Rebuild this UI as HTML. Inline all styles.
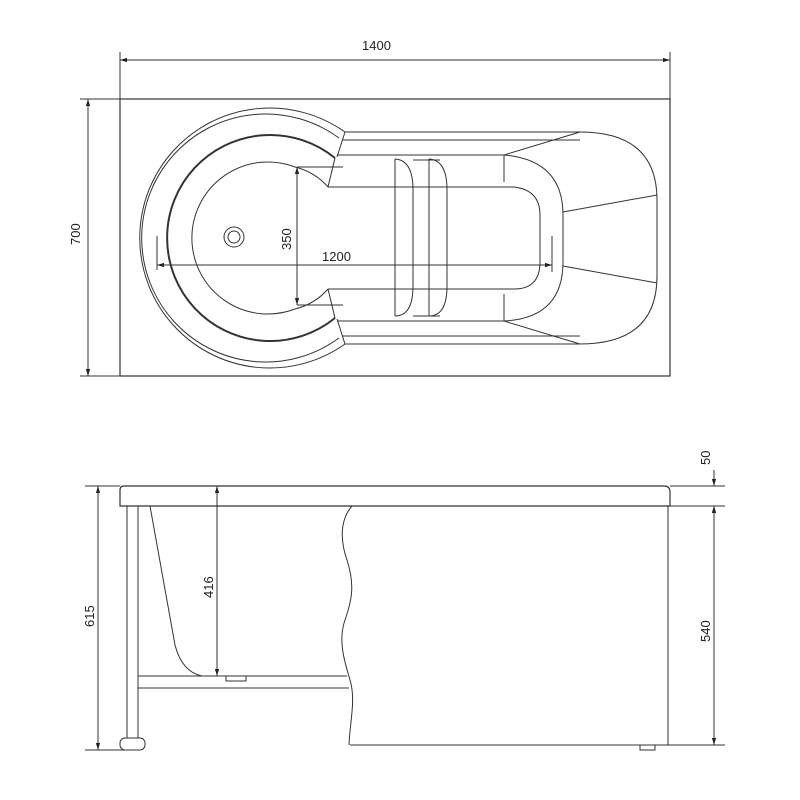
<!DOCTYPE html>
<html><head><style>body{margin:0;background:#fff}svg{display:block}text{font-family:"Liberation Sans",sans-serif;font-size:13px;fill:#222}</style></head>
<body>
<svg width="800" height="800" viewBox="0 0 800 800" xmlns="http://www.w3.org/2000/svg">
<defs><marker id="a" viewBox="0 0 10 10" refX="10" refY="5" markerWidth="7" markerHeight="9" orient="auto-start-reverse"><path d="M0,2 L10,5 L0,8 z" fill="#222"/></marker></defs>
<g fill="none" stroke="#333" stroke-width="1">
<line x1="120" y1="60" x2="670" y2="60" marker-start="url(#a)" marker-end="url(#a)"/>
<line x1="120" y1="52" x2="120" y2="99"/><line x1="670" y1="52" x2="670" y2="99"/>
<line x1="88" y1="99" x2="88" y2="376" marker-start="url(#a)" marker-end="url(#a)"/>
<line x1="80" y1="99" x2="120" y2="99"/><line x1="80" y1="376" x2="120" y2="376"/>
<rect x="120" y="99" width="550" height="277" stroke-width="1.2"/>
<path d="M345,132 A130,130 0 1 0 345,344"/>
<path d="M339,138 A124,124 0 1 0 339,338"/>
<path d="M335,158 A103,103 0 1 0 335,318" stroke-width="2"/>
<path d="M345,132 L337,157 M345,344 L337,319"/>
<path d="M335,158 L328,187 M335,318 L328,289"/>
<path d="M295,167 A76,76 0 1 0 295,309"/>
<path d="M295,167 Q315,172 328,187 M295,309 Q315,304 328,289"/>
<path d="M345,132 H580 Q657,132 657,200 V276 Q657,344 580,344 H345"/>
<path d="M342,140 H580 M342,336 H580"/>
<path d="M337,155 H506 M337,321 H506"/>
<path d="M328,187 H514 Q540,190 540,215 V262 Q540,289 514,289 H328"/>
<path d="M395,159 V316 M395,159 Q413,160 413,190 V286 Q413,316 395,316"/>
<path d="M429,159 V316 M429,159 Q447,160 447,190 V286 Q447,316 429,316 M413,160 H440 M413,316 H440"/>
<path d="M504,155 V182 M504,294 V321"/>
<path d="M504,155 Q563,160 563,215 V262 Q563,318 504,321"/>
<path d="M504,155 L580,132 M504,321 L580,344"/>
<path d="M563,212 L657,195 M563,266 L657,283"/>
<circle cx="234" cy="237" r="10"/><circle cx="234" cy="237" r="6"/>
<line x1="297" y1="167" x2="297" y2="305" marker-start="url(#a)" marker-end="url(#a)"/>
<path d="M297,167 H343 M297,305 H343"/>
<line x1="157" y1="265" x2="552" y2="265" marker-start="url(#a)" marker-end="url(#a)"/>
<path d="M157,236 V270 M552,236 V272"/>
<path d="M124,486 H664 Q670,486 670,492 V506 H120 V490 Q120,486 124,486 Z" stroke-width="1.2"/>
<path d="M668,506 V745 H350"/>
<path d="M352,506 C340,520 340,540 347,560 C355,585 352,600 345,620 C338,640 344,660 350,680 C356,700 350,720 349,745"/>
<path d="M127,506 V738 M138,506 V738"/>
<rect x="120" y="738" width="25" height="12" rx="5"/>
<path d="M138,676 H347 M138,688 H349"/>
<path d="M150,506 L175,645 Q182,672 202,676"/>
<rect x="226" y="676" width="20" height="5"/>
<rect x="640" y="745" width="15" height="5"/>
<line x1="98" y1="486" x2="98" y2="750" marker-start="url(#a)" marker-end="url(#a)"/>
<path d="M85,486 H120 M85,750 H130"/>
<line x1="217" y1="486" x2="217" y2="676" marker-start="url(#a)" marker-end="url(#a)"/>
<line x1="714" y1="506" x2="714" y2="745" marker-start="url(#a)" marker-end="url(#a)"/>
<line x1="714" y1="470" x2="714" y2="486" marker-end="url(#a)"/>
<line x1="714" y1="520" x2="714" y2="506" marker-end="url(#a)"/>
<path d="M670,486 H725 M670,506 H725 M668,745 H725"/>
</g>
<text x="362" y="50">1400</text>
<text transform="translate(80,245) rotate(-90)">700</text>
<text transform="translate(291,250) rotate(-90)">350</text>
<text x="322" y="261">1200</text>
<text transform="translate(94,627) rotate(-90)">615</text>
<text transform="translate(213,598) rotate(-90)">416</text>
<text transform="translate(710,642) rotate(-90)">540</text>
<text transform="translate(710,465) rotate(-90)">50</text>
</svg>
</body></html>
